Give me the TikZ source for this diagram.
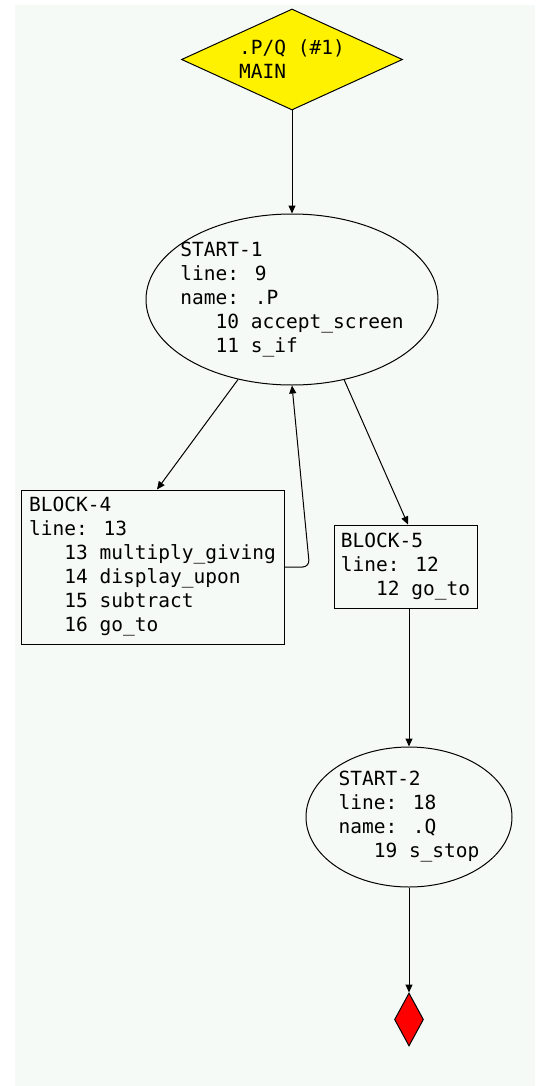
\documentclass[tikz,border=0pt]{standalone}
\usepackage{fontspec}
\newfontfamily\codefont{DejaVu Sans Mono}
\usetikzlibrary{shapes.geometric,arrows.meta}
\definecolor{bgc}{RGB}{246,250,247}
\begin{document}
\begin{tikzpicture}[x=1pt,y=-1pt,
  every node/.style={font=\codefont\fontsize{19.5}{24}\selectfont, align=left, draw=black, line width=1pt},
  arr/.style={line width=1pt, -{Triangle[length=8pt,width=7pt]}},
  startbox/.style={ellipse, fill=bgc},
  blockbox/.style={rectangle, fill=bgc, inner sep=0pt},
  entrybox/.style={diamond, fill=yellow, inner sep=0pt},
  stopbox/.style={diamond, fill=red, inner sep=0pt}
]
\useasboundingbox (0,0) rectangle (535,1086);
\fill[bgc] (15,5) rectangle (535,1086);

\node[entrybox, minimum width=221pt, minimum height=101pt, aspect=2.19] (top) at (292,59.5) {.P/Q (\#1)\\MAIN};

\node[startbox, minimum width=292pt, minimum height=171pt, inner xsep=-18pt, inner ysep=-5pt] (s1) at (292,299.5)
  {START-1\\line: 9\\name: .P\\\phantom{000}10 accept\_screen\\\phantom{000}11 s\_if};

\node[blockbox, minimum width=263pt, minimum height=154pt] (b4) at (152.5,567)
  {BLOCK-4\\line: 13\\\phantom{000}13 multiply\_giving\\\phantom{000}14 display\_upon\\\phantom{000}15 subtract\\\phantom{000}16 go\_to};

\node[blockbox, minimum width=143pt, minimum height=83pt] (b5) at (405.5,566.5)
  {BLOCK-5\\line: 12\\\phantom{000}12 go\_to};

\node[startbox, minimum width=206pt, minimum height=140pt, inner xsep=-5pt, inner ysep=-20pt] (s2) at (409,817)
  {START-2\\line: 18\\name: .Q\\\phantom{000}19 s\_stop};

\node[stopbox, minimum width=29pt, minimum height=53pt, aspect=0.547] (stop) at (409,1019.5) {};

\draw[arr] (top.south) -- (s1.north);
\draw[arr] (s1.236) -- ([xshift=4.5pt]b4.north);
\draw[arr] (s1.303) -- ([xshift=2.5pt]b5.north);
\draw[arr, rounded corners=7pt] (b4.east) -- ++(25,0) -- (s1.south);
\draw[arr] (b5.south -| s2.north) -- (s2.north);
\draw[arr] (s2.south) -- (stop.north);
\end{tikzpicture}
\end{document}
